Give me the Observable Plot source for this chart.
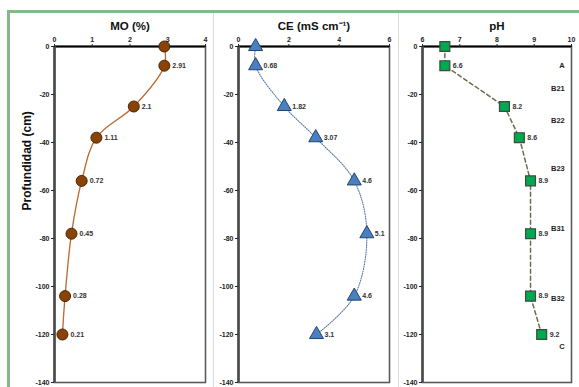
<!DOCTYPE html>
<html>
<head>
<meta charset="utf-8">
<script src="https://cdn.jsdelivr.net/npm/d3@7"></script>
<script src="https://cdn.jsdelivr.net/npm/@observablehq/plot@0.6"></script>
<style>
  html, body { margin: 0; padding: 0; background: #fff; }
  #wrap { position: relative; width: 579px; height: 387px; overflow: hidden; font-family: "Liberation Sans", Arial, sans-serif; }
  .panel { position: absolute; top: 0; }
  .gborder { position: absolute; left: 7px; top: 10px; right: -10px; bottom: -10px; border-left: 3px solid #86b886; border-top: 3px solid #86b886; }
  .sep { position: absolute; top: 13px; bottom: 0; width: 1px; background: #dcdcdc; }
</style>
</head>
<body>
<div id="wrap">
  <div class="gborder"></div>
  <div class="sep" style="left:213px"></div>
  <div class="sep" style="left:398px"></div>
</div>
<script>
// Data
const depth = [0, -8, -25, -38, -56, -78, -104, -120];
const mo = [2.91, 2.91, 2.1, 1.11, 0.72, 0.45, 0.28, 0.21];
const ce = [0.68, 0.68, 1.82, 3.07, 4.6, 5.1, 4.6, 3.1];
const ph = [6.6, 6.6, 8.2, 8.6, 8.9, 8.9, 8.9, 9.2];
const horizons = ["A", "B21", "B22", "B23", "B31", "B32", "C"];
const horizonDepth = [-8, -17.5, -31, -51, -76, -105, -125];
const yTicks = [0, -20, -40, -60, -80, -100, -120, -140];
const moTicks = [0, 1, 2, 3, 4];
const ceTicks = [0, 2, 4, 6];
const phTicks = [6, 7, 8, 9, 10];

const wrap = document.getElementById("wrap");

function panel({left, width, mL, mR, xDomain, xTicks, title, values, marker, extra = []}) {
  const rows = depth.map((d, i) => ({d, v: values[i], i}));
  const chart = Plot.plot({
    width, height: 387,
    marginTop: 46, marginBottom: 5, marginLeft: mL, marginRight: mR,
    style: {fontFamily: "Liberation Sans, Arial, sans-serif", fontSize: "7px", fontWeight: "bold", color: "#222", background: "transparent", overflow: "visible"},
    x: {domain: xDomain},
    y: {domain: [-140, 0]},
    marks: [
      Plot.frame({stroke: "#5a5a5a", strokeWidth: 1.6}),
      Plot.ruleY([0], {stroke: "#000", strokeWidth: 2}),
      Plot.ruleX([xDomain[0]], {stroke: "#4a4a4a", strokeWidth: 2.6}),
      Plot.axisX({anchor: "top", ticks: xTicks, tickSize: 3, tickPadding: 2, label: null, tickFormat: d => String(d)}),
      Plot.axisY({anchor: "left", ticks: yTicks, tickSize: 3, tickPadding: 2, label: null, tickFormat: d => String(d)}),
      Plot.text([title], {frameAnchor: "top", dy: -25, text: d => d, fontSize: 11.5, fontWeight: "bold", fill: "#111"}),
      marker.line(rows),
      marker.dot(rows),
      Plot.text(rows.filter(r => r.i > 0), {x: "v", y: "d", text: r => String(r.v), dx: 8, textAnchor: "start", fontSize: 7, fontWeight: "bold", fill: "#333"}),
      ...extra
    ]
  });
  chart.classList.add("panel");
  chart.style.left = left + "px";
  chart.style.position = "absolute";
  wrap.appendChild(chart);
}

panel({
  left: 12, width: 198, mL: 42, mR: 5, xDomain: [0, 4], xTicks: moTicks, title: "MO (%)", values: mo,
  marker: {
    line: rows => Plot.line(rows, {x: "v", y: "d", curve: "catmull-rom", stroke: "#b8692e", strokeWidth: 1.3}),
    dot: rows => Plot.dot(rows, {x: "v", y: "d", r: 5.5, fill: "#8a4307", stroke: "#4a2400", strokeWidth: 1})
  },
  extra: [
    Plot.text(["Profundidad (cm)"], {frameAnchor: "left", dx: -27, dy: -4, rotate: -90, text: d => d, fontSize: 12, fontWeight: "bold", fill: "#111"})
  ]
});

panel({
  left: 214, width: 178, mL: 24, mR: 3, xDomain: [0, 6], xTicks: ceTicks, title: "CE (mS cm\u207B\u00B9)", values: ce,
  marker: {
    line: rows => Plot.line(rows, {x: "v", y: "d", curve: "catmull-rom", stroke: "#5a78ad", strokeWidth: 1.1, strokeDasharray: "1,1.4"}),
    dot: rows => Plot.dot(rows, {x: "v", y: "d", symbol: "triangle", r: 5.2, fill: "#4a80c0", stroke: "#23436e", strokeWidth: 1})
  }
});

panel({
  left: 399, width: 178, mL: 23, mR: 6, xDomain: [6, 10], xTicks: phTicks, title: "pH", values: ph,
  marker: {
    line: rows => Plot.line(rows, {x: "v", y: "d", stroke: "#6a6e48", strokeWidth: 1.5, strokeDasharray: "4,3"}),
    dot: rows => Plot.dot(rows, {x: "v", y: "d", symbol: "square", r: 5.6, fill: "#00a84f", stroke: "#3d4a3d", strokeWidth: 1.2})
  },
  extra: [
    Plot.text(horizons, {x: () => 9.82, y: (d, i) => horizonDepth[i], text: d => d, textAnchor: "end", fontSize: 7.5, fontWeight: "bold", fill: "#222"})
  ]
});
</script>
</body>
</html>
